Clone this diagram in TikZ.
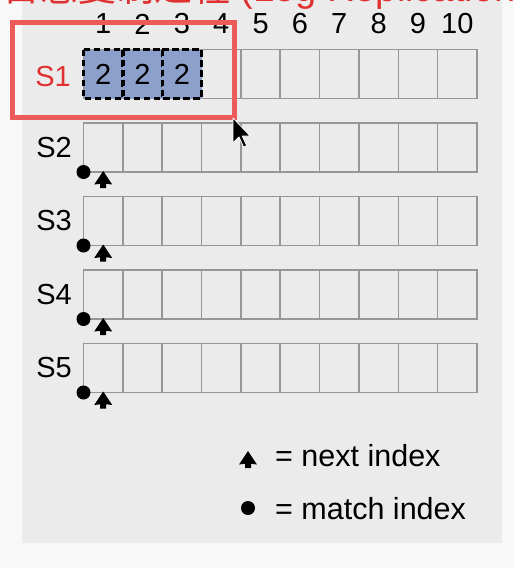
\documentclass[tikz,border=0pt]{standalone}
\usepackage{fontspec}
\setmainfont{Liberation Sans}
\newfontfamily\cjkfont{Noto Sans CJK SC}
\definecolor{panelc}{HTML}{EBEBEB}
\definecolor{pagebg}{HTML}{F8F8F8}
\definecolor{gridc}{HTML}{969696}
\definecolor{redbox}{HTML}{EC5A5A}
\definecolor{redtxt}{HTML}{E03030}
\definecolor{bluefill}{HTML}{8DA0CC}
\tikzset{
  cellbox/.style={draw=gridc, line width=1.6pt},
  logbox/.style={fill=bluefill, draw=black, line width=3.4pt, dash pattern=on 6.5pt off 3.5pt},
  lbl/.style={font=\fontsize{29}{34}\selectfont, inner sep=0pt},
  legtxt/.style={font=\fontsize{30.5}{36}\selectfont, inner sep=0pt, anchor=base west},
  matchdot/.style={fill=black},
  nextmark/.pic={\fill[black] (0,0) -- (9,13.5) -- (3,12.8) -- (3,17) -- (-3,17) -- (-3,12.8) -- (-9,13.5) -- cycle;}
}
\begin{document}
\begin{tikzpicture}[x=1pt,y=-1pt]
\useasboundingbox (0,0) rectangle (514,568);
\clip (0,0) rectangle (514,568);
\fill[pagebg] (0,0) rectangle (514,568);
\fill[panelc] (22,-5) rectangle (502,543);
% title (cut off at the top, as in the reference)
\node[anchor=base west, inner sep=0pt, text=redtxt, font=\fontsize{38}{44}\selectfont] (title) at (-36,1.5) {{\cjkfont 的日志复制过程}\ (Log Replication)};
% column numbers
\foreach \i in {1,...,10} {
  \node[lbl] (col\i) at ({83.5+(\i-0.5)*39.35},24) {\i};
}
% log grids
\foreach \r [count=\k] in {49.5,123,196.5,270,343.5} {
  \foreach \c in {0,...,9} {
    \draw[cellbox] ({83.5+\c*39.35},\r) rectangle ++(39.35,49);
  }
}
% row labels
\node[lbl, anchor=east, text=redtxt] (s1) at (71,77) {S1};
\node[lbl, anchor=east] (s2) at (72,147.5) {S2};
\node[lbl, anchor=east] (s3) at (72,221) {S3};
\node[lbl, anchor=east] (s4) at (72,294.5) {S4};
\node[lbl, anchor=east] (s5) at (72,368) {S5};
% leader entries
\foreach \c in {0,1,2} {
  \draw[logbox] ({83.5+\c*39.35},49.5) rectangle ++(39.35,49);
}
\foreach \c in {0,1,2} {
  \node[lbl] (e\c) at ({83.5+(\c+0.5)*39.35},74) {2};
}
% match / next index markers
\foreach \b in {172,245.5,319,392.5} {
  \fill[matchdot] (83.5,\b) circle (7);
  \pic at (103.2,{\b-1}) {nextmark};
}
% highlight box
\draw[redbox, line width=5pt] (12.5,22) rectangle (234,117);
% legend
\pic at (248,451) {nextmark};
\node[legtxt] (leg1) at (275,466.5) {= next index};
\fill[matchdot] (248,508) circle (7);
\node[legtxt] (leg2) at (275,519) {= match index};
% mouse cursor
\filldraw[fill=black, draw=white, line width=0.8pt, line join=round]
  (233,118) -- ++(0,25) -- ++(6,-6) -- ++(4.5,10) -- ++(3.2,-1.3) -- ++(-4.5,-9.7) -- ++(8,0) -- cycle;
\end{tikzpicture}
\end{document}
